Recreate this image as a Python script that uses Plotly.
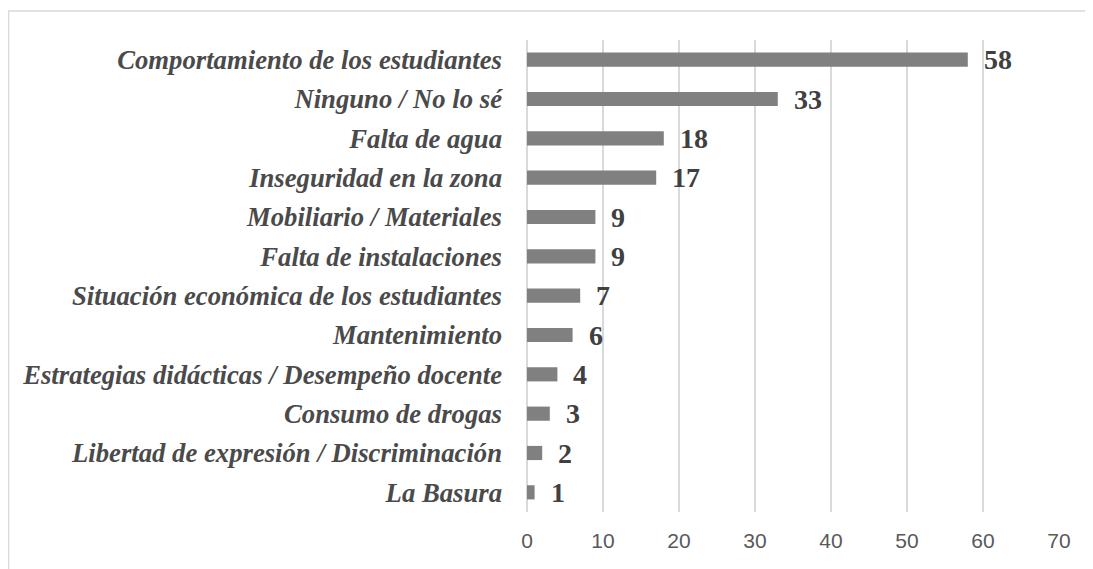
import plotly.graph_objects as go

categories = [
    "Comportamiento de los estudiantes",
    "Ninguno / No lo sé",
    "Falta de agua",
    "Inseguridad en la zona",
    "Mobiliario / Materiales",
    "Falta de instalaciones",
    "Situación económica de los estudiantes",
    "Mantenimiento",
    "Estrategias didácticas / Desempeño docente",
    "Consumo de drogas",
    "Libertad de expresión / Discriminación",
    "La Basura",
]
values = [58, 33, 18, 17, 9, 9, 7, 6, 4, 3, 2, 1]
x_ticks = [0, 10, 20, 30, 40, 50, 60, 70]

fig = go.Figure()
fig.add_trace(go.Bar(
    x=values,
    y=categories,
    orientation="h",
    marker=dict(color="#808080", line=dict(width=0)),
    width=0.36,
    hoverinfo="skip",
))

for c, v in zip(categories, values):
    fig.add_annotation(
        x=v, y=c, xref="x", yref="y",
        text=str(v), showarrow=False,
        xanchor="left", yanchor="middle", xshift=14,
        font=dict(family="Liberation Serif", size=28, color="#404040", weight="bold"),
    )

# page body has an 8px margin; compensate
OFF = 8
W, H = 1093 - OFF, 569 - OFF
L, R, T, B = 527 - OFF, 34, 40 - OFF, 57
pw = W - L - R
ph = H - T - B

def px(xp):
    return (xp - OFF - L) / pw

def py(yp):
    return (H - B - (yp - OFF)) / ph

fig.add_shape(
    type="rect", xref="paper", yref="paper",
    x0=px(8.5), x1=px(1120), y0=py(600), y1=py(11),
    line=dict(color="#d9d9d9", width=1.5), fillcolor="rgba(0,0,0,0)", layer="below",
)

fig.update_layout(
    width=W, height=H,
    margin=dict(l=L, r=R, t=T, b=B, pad=0),
    paper_bgcolor="white",
    plot_bgcolor="white",
    showlegend=False,
    bargap=0.64,
    xaxis=dict(
        range=[0, 70],
        tickvals=x_ticks,
        ticktext=[str(t) for t in x_ticks],
        showgrid=True, gridcolor="#d9d9d9", gridwidth=1.5,
        zeroline=True, zerolinecolor="#d9d9d9", zerolinewidth=1.5,
        showline=False, ticks="",
        tickfont=dict(family="Liberation Sans", size=21, color="#595959"),
        ticklabelstandoff=14,
        fixedrange=True,
    ),
    yaxis=dict(
        autorange="reversed",
        showgrid=False, zeroline=False, showline=False, ticks="",
        tickfont=dict(family="Liberation Serif", size=26.7, color="#4a4a4a",
                      weight="bold", style="italic"),
        ticklabelstandoff=24,
        fixedrange=True,
    ),
)

fig.write_html("out.html")
